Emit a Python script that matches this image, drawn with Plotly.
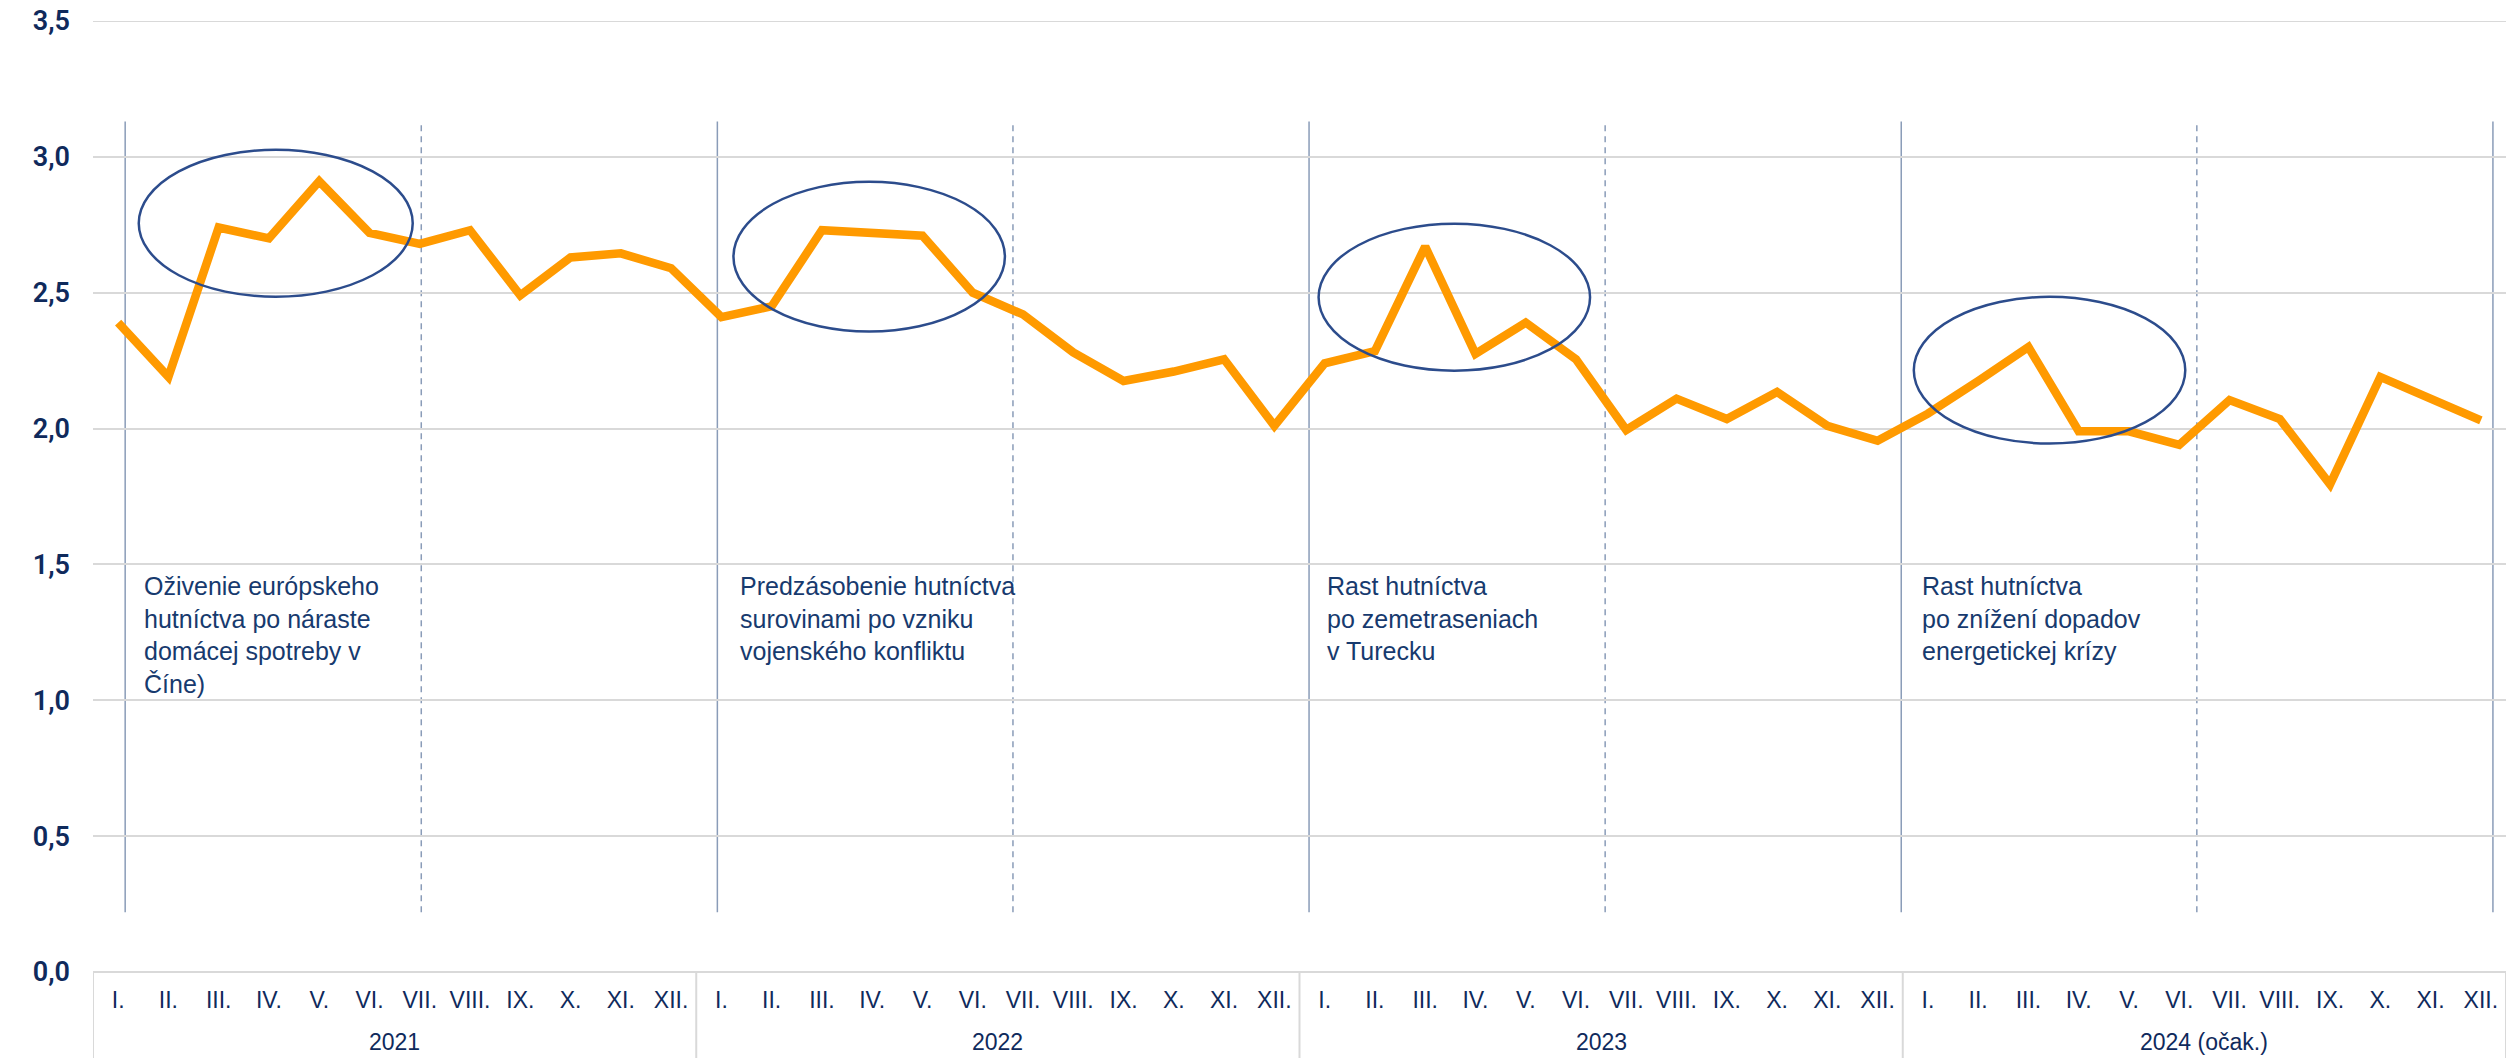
import plotly.graph_objects as go

years = ["2021", "2022", "2023", "2024 (očak.)"]
months = ["I.", "II.", "III.", "IV.", "V.", "VI.", "VII.", "VIII.", "IX.", "X.", "XI.", "XII."]

values_2021 = [2.39, 2.19, 2.74, 2.70, 2.91, 2.72, 2.68, 2.73, 2.49, 2.63, 2.645, 2.59]
values_2022 = [2.41, 2.45, 2.73, 2.72, 2.71, 2.50, 2.42, 2.28, 2.175, 2.21, 2.255, 2.01]
values_2023 = [2.24, 2.285, 2.67, 2.275, 2.39, 2.255, 1.995, 2.11, 2.035, 2.135, 2.01, 1.955]
values_2024 = [2.055, 2.175, 2.30, 1.99, 1.99, 1.94, 2.105, 2.035, 1.795, 2.19, 2.11, 2.03]

# vertical separator lines (position in month-index units)
solid_lines = [0.14, 11.92, 23.69, 35.47, 47.24]
dashed_lines = [6.03, 17.80, 29.58, 41.35]
vline_range = [0.22, 3.13]

# highlighted ellipses: x0, x1 (month index), y0, y1
ellipses = [
    (0.41, 5.86, 2.485, 3.026),
    (12.24, 17.64, 2.357, 2.908),
    (23.88, 29.28, 2.213, 2.754),
    (35.72, 41.12, 1.945, 2.485),
]

notes_x = [0.47, 12.34, 24.0, 35.84]
notes_y = 1.48
notes_text = [
    "Oživenie európskeho<br>hutníctva po náraste<br>domácej spotreby v<br>Číne)",
    "Predzásobenie hutníctva<br>surovinami po vzniku<br>vojenského konfliktu",
    "Rast hutníctva<br>po zemetraseniach<br>v Turecku",
    "Rast hutníctva<br>po znížení dopadov<br>energetickej krízy",
]

Y_MAX = 3.5

values = values_2021 + values_2022 + values_2023 + values_2024
n_months = len(months)
x_idx = list(range(len(values)))
tick_text = months * len(years)

NAVY = "#0F2A5C"
GRID = "#D9D9D9"
VLINE = "#8A9CB8"
ELL = "#2C4C8C"
XRANGE = [-0.5, len(values) - 0.5]

fig = go.Figure()
fig.add_trace(go.Scatter(
    x=x_idx, y=values, mode="lines",
    line=dict(color="#FF9A00", width=8.5), showlegend=False,
))

shapes = []
# top gridline at the axis maximum
shapes.append(dict(type="line", xref="paper", yref="y", x0=0, x1=1, y0=Y_MAX, y1=Y_MAX,
                   line=dict(color=GRID, width=2), layer="below"))
for xv in solid_lines:
    shapes.append(dict(type="line", xref="x", yref="y", x0=xv, x1=xv,
                       y0=vline_range[0], y1=vline_range[1],
                       line=dict(color=VLINE, width=1.5), layer="below"))
for xv in dashed_lines:
    shapes.append(dict(type="line", xref="x", yref="y", x0=xv, x1=xv,
                       y0=vline_range[0], y1=vline_range[1],
                       line=dict(color=VLINE, width=1.5, dash="6px,5px"), layer="below"))
for (a, b, c, d) in ellipses:
    shapes.append(dict(type="circle", xref="x", yref="y", x0=a, x1=b, y0=c, y1=d,
                       line=dict(color=ELL, width=2.5)))

# year group dividers in the category axis area
for k in range(len(years) + 1):
    xv = k * n_months - 0.5
    shapes.append(dict(type="line", xref="x", yref="paper", x0=xv, x1=xv, y0=0, y1=-0.095,
                       line=dict(color=GRID, width=2)))

annotations = []
for xv, t in zip(notes_x, notes_text):
    annotations.append(dict(xref="x", yref="y", x=xv, y=notes_y, text=t,
                            showarrow=False, xanchor="left", yanchor="top", align="left",
                            font=dict(family="Liberation Sans, Arial, sans-serif", size=25, color="#173A6E")))
for k, yr in enumerate(years):
    annotations.append(dict(xref="x", yref="paper", x=k * n_months + (n_months - 1) / 2, y=-0.074,
                            text=yr, showarrow=False, xanchor="center", yanchor="middle",
                            font=dict(family="Liberation Sans Narrow, Liberation Sans, sans-serif", size=23, color=NAVY)))

fig.update_layout(
    width=2509, height=1058,
    margin=dict(l=93, r=3, t=21, b=86),
    paper_bgcolor="white", plot_bgcolor="white",
    separators=", ",
    shapes=shapes, annotations=annotations,
    xaxis=dict(
        range=XRANGE, showgrid=False, showline=False, zeroline=False,
        tickvals=x_idx, ticktext=tick_text, tickangle=0,
        tickfont=dict(family="Liberation Sans Narrow, Liberation Sans, sans-serif", size=23, color=NAVY),
        ticks="", ticklabelstandoff=12,
    ),
    yaxis=dict(
        range=[0, Y_MAX], dtick=0.5, tickformat=".1f", showgrid=True,
        gridcolor=GRID, gridwidth=2, zeroline=True, zerolinecolor=GRID, zerolinewidth=2,
        tickfont=dict(family="Roboto, Liberation Sans, sans-serif", size=27, color=NAVY, weight=600),
        ticklabelstandoff=22, showline=False,
    ),
)

fig.write_html("out.html", config={"displayModeBar": False},
               post_script="document.body.style.margin='0px';document.body.style.overflow='hidden';")
